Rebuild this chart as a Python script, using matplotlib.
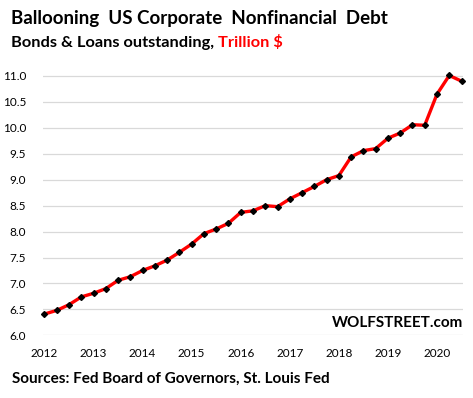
import numpy as np
import matplotlib.pyplot as plt

# quarterly, 2012 Q1 .. 2020 Q3, trillion $
debt = [6.41, 6.48, 6.59, 6.74, 6.81, 6.90, 7.06, 7.13, 7.25, 7.34,
        7.45, 7.60, 7.76, 7.96, 8.05, 8.16, 8.37, 8.40, 8.50, 8.48,
        8.63, 8.75, 8.87, 9.00, 9.08, 9.44, 9.56, 9.60, 9.80, 9.90,
        10.06, 10.05, 10.65, 11.01, 10.90]
years = [2012, 2013, 2014, 2015, 2016, 2017, 2018, 2019, 2020]
yticks = [6.0, 6.5, 7.0, 7.5, 8.0, 8.5, 9.0, 9.5, 10.0, 10.5, 11.0]

plt.rcParams['font.family'] = ['Lato', 'DejaVu Sans']

W, H = 473, 398
fig = plt.figure(figsize=(W / 100, H / 100), dpi=100)
ax = fig.add_axes([43 / W, 62.7 / H, 420 / W, 264.5 / H])

x = np.arange(len(debt))
ax.plot(x, debt, color='#ff0000', lw=2.4, zorder=3, clip_on=False)
ax.plot(x, debt, ls='none', marker='D', ms=3.0, color='black', zorder=4, clip_on=False)

ax.set_xlim(-0.12, 34.12)
ax.set_ylim(6.0, 11.1)
ax.set_yticks(yticks)
ax.set_yticklabels(['%.1f' % v for v in yticks])
ax.set_xticks([4 * i for i in range(len(years))])
ax.set_xticklabels([str(y) for y in years])
ax.tick_params(length=0, labelsize=8.5, colors='black')
ax.tick_params(axis='y', pad=12)
ax.tick_params(axis='x', pad=9)
ax.grid(axis='y', color='#d9d9d9', lw=0.9)
ax.set_axisbelow(True)
for s in ax.spines.values():
    s.set_visible(False)

def px(xp, yp):
    return xp / W, 1 - yp / H

fig.text(*px(11, 24), 'Ballooning  US Corporate  Nonfinancial  Debt',
         fontsize=13.5, fontweight='bold', va='baseline')
t = fig.text(*px(11, 47), 'Bonds & Loans outstanding, ',
             fontsize=11.8, fontweight='bold', va='baseline')
fig.canvas.draw()
bb = t.get_window_extent()
fig.text(bb.x1 / W, 1 - 47 / H, 'Trillion $', color='#ff0000',
         fontsize=11.8, fontweight='bold', va='baseline')
fig.text(*px(463, 327), 'WOLFSTREET.com', fontsize=11, fontweight='bold',
         ha='right', va='baseline')
fig.text(*px(12, 383), 'Sources: Fed Board of Governors, St. Louis Fed',
         fontsize=11, fontweight='bold', va='baseline')

fig.savefig('out.png', dpi=100)
